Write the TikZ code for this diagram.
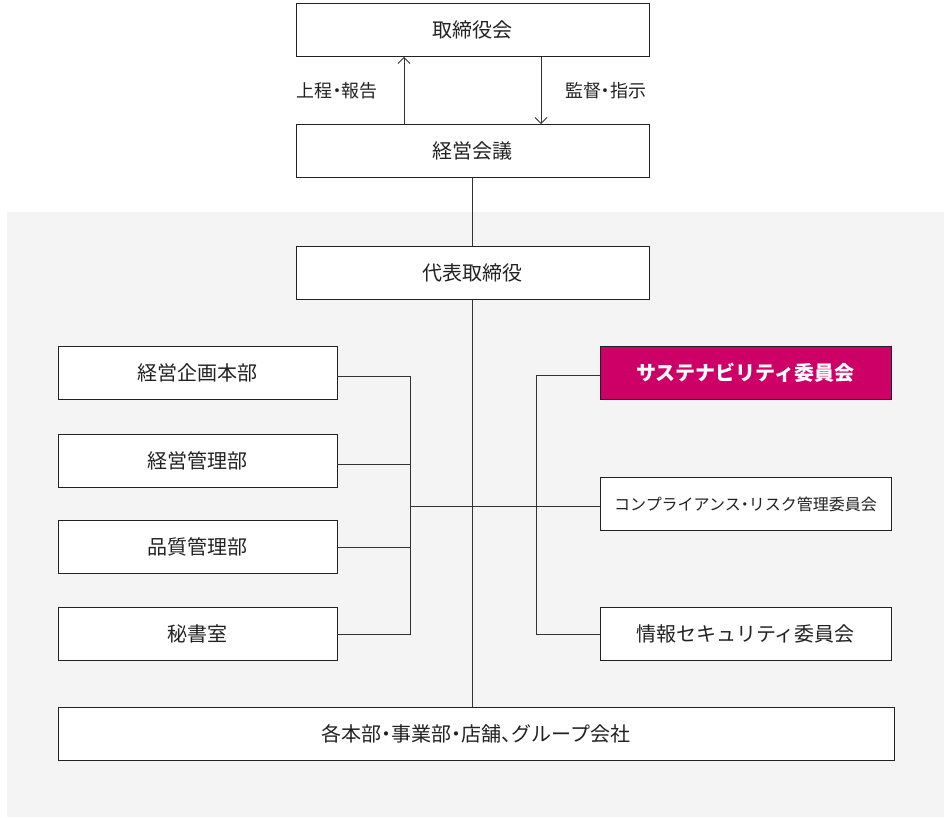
\documentclass[tikz,border=0pt]{standalone}
\usepackage{fontspec}
\setmainfont{Noto Sans CJK JP}
\newfontfamily\paltfont[RawFeature=+palt]{Noto Sans CJK JP}
\newcommand\nd{{\paltfont ・}}
\newcommand\tn{{\paltfont 、}}
\usetikzlibrary{arrows.meta,calc}
\definecolor{bgcol}{HTML}{F4F4F4}
\definecolor{txtcol}{HTML}{222222}
\definecolor{linecol}{HTML}{333333}
\definecolor{magenta}{HTML}{CC0066}
\tikzset{
  orgbox/.style={draw=txtcol, line width=0.9pt, fill=white, text=txtcol, minimum height=53pt, inner sep=0pt, font=\fontsize{20}{24}\selectfont},
  widebox/.style={orgbox, minimum width=353pt},
  leftbox/.style={orgbox, minimum width=279pt},
  rightbox/.style={orgbox, minimum width=291pt},
  hilite/.style={rightbox, fill=magenta, text=white, font=\fontsize{20}{24}\selectfont\bfseries},
  conn/.style={draw=linecol, line width=0.9pt},
  arr/.style={conn, -{Straight Barb[length=6pt,width=12pt]}},
  lbl/.style={text=txtcol, inner sep=0pt, font=\fontsize{18}{22}\selectfont}
}
\begin{document}
\begin{tikzpicture}[x=1pt,y=-1pt]
\useasboundingbox (0,0) rectangle (950,817);
\fill[bgcol] (7,212) rectangle (944,817);

\node[widebox] (top) at (472.5,30) {取締役会};
\node[widebox] (mgmt) at (472.5,151) {経営会議};
\node[widebox] (ceo) at (472.5,273) {代表取締役};

\node[leftbox] (L1) at (197.5,373) {経営企画本部};
\node[leftbox] (L2) at (197.5,460.5) {経営管理部};
\node[leftbox] (L3) at (197.5,546.5) {品質管理部};
\node[leftbox] (L4) at (197.5,634) {秘書室};

\node[hilite] (R1) at (745.5,373) {サステナビリティ委員会};
\node[rightbox, font=\fontsize{16}{20}\selectfont] (R2) at (745.5,504) {コンプライアンス\nd リスク管理委員会};
\node[rightbox] (R3) at (745.5,634) {情報セキュリティ委員会};

\node[orgbox, minimum width=836pt] (bot) at (476,734) {各本部\nd 事業部\nd 店舗\tn グループ会社};

% arrows between board and management meeting
\draw[arr] ($(mgmt.north)+(-68.5,0)$) -- ($(top.south)+(-68.5,0)$);
\draw[arr] ($(top.south)+(68.5,0)$) -- ($(mgmt.north)+(68.5,0)$);
\node[lbl, anchor=east] (upl) at (378,91) {上程\nd 報告};
\node[lbl, anchor=west] (dnl) at (565,91) {監督\nd 指示};

% spine
\draw[conn] (mgmt.south) -- (ceo.north);
\draw[conn] (ceo.south) -- (ceo.south |- bot.north);

% buses
\coordinate (lbus) at (410,506);
\coordinate (rbus) at (536,506);
\path ([yshift=-3pt]L1.east) coordinate (l1s);
\path ([yshift=-3.5pt]L2.east) coordinate (l2s);
\path ([yshift=-0.5pt]L3.east) coordinate (l3s);
\path ([yshift=-2pt]R1.west) coordinate (r1s);
\draw[conn] (l1s) -| (lbus);
\draw[conn] (L4.east) -| (lbus);
\draw[conn] (l2s) -- (l2s -| lbus);
\draw[conn] (l3s) -- (l3s -| lbus);
\draw[conn] (lbus) -- (lbus -| R2.west);
\draw[conn] (r1s) -| (rbus);
\draw[conn] (R3.west) -| (rbus);
\end{tikzpicture}
\end{document}
